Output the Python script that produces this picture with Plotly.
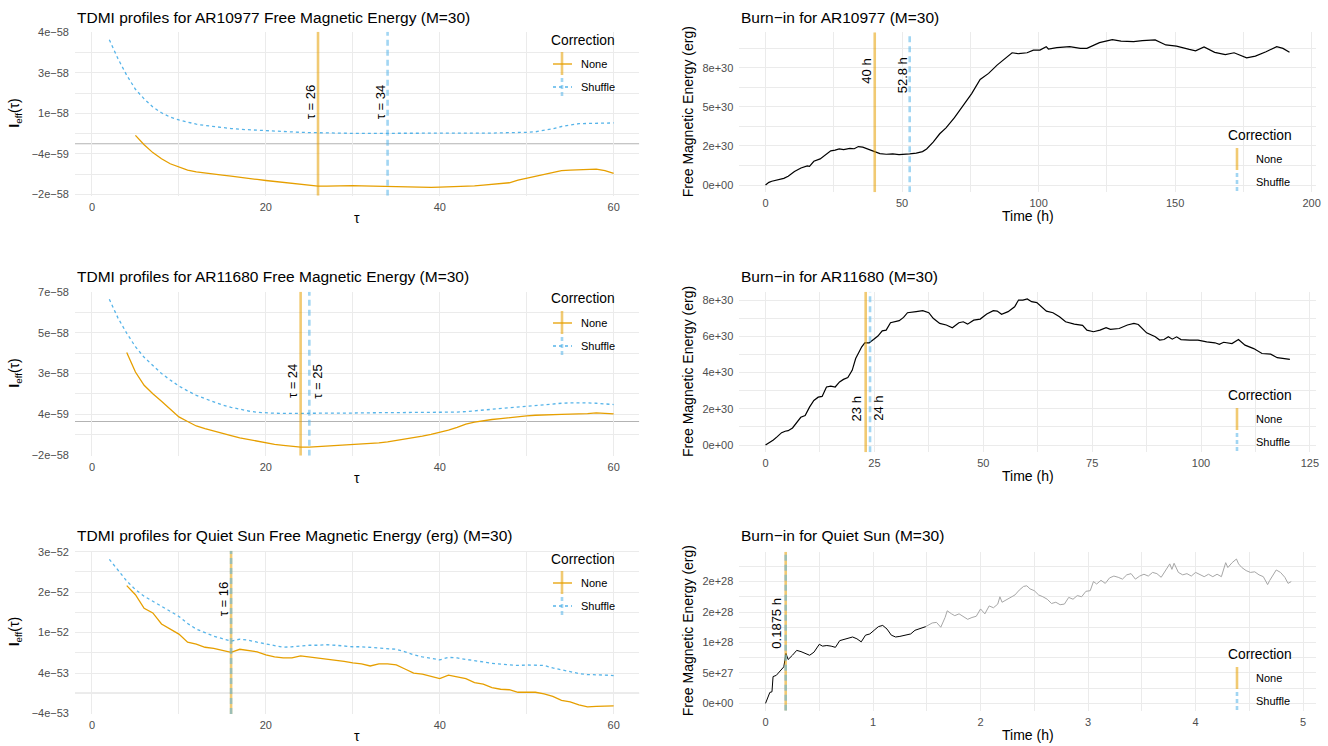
import plotly.graph_objects as go

W, H = 1328, 746
FONT = "Liberation Sans, Arial, Helvetica, sans-serif"
ORANGE = "#E69F00"
BLUE = "#56B4E9"
GRID = "#EBEBEB"
TICKC = "#4D4D4D"

# ---------------- data ----------------
# TDMI profiles (values in units of the scale factor)
tdmi_scale_ar = 1e-58
tdmi_scale_qs = 1e-52

ar10977_tau_shuffle = list(range(2, 61))
ar10977_shuffle = [4.10, 3.35, 2.70, 2.15, 1.77, 1.45, 1.22, 1.05, 0.94, 0.85, 0.77, 0.72, 0.67, 0.63, 0.60,
                   0.57, 0.55, 0.53, 0.51, 0.49, 0.47, 0.46, 0.45, 0.44, 0.43, 0.43, 0.42, 0.42, 0.41, 0.41,
                   0.41, 0.40, 0.40, 0.40, 0.40, 0.41, 0.41, 0.41, 0.41, 0.41, 0.41, 0.42, 0.42, 0.42, 0.42,
                   0.43, 0.43, 0.44, 0.45, 0.47, 0.52, 0.59, 0.68, 0.75, 0.79, 0.80, 0.81, 0.81, 0.82]
ar10977_tau_none = list(range(5, 61))
ar10977_none = [0.33, -0.04, -0.35, -0.59, -0.79, -0.93, -1.04, -1.11, -1.16, -1.20,
                -1.24, -1.28, -1.33, -1.37, -1.41, -1.45, -1.49, -1.53, -1.57, -1.61,
                -1.64, -1.67, -1.67, -1.66, -1.65, -1.65, -1.66, -1.67, -1.68, -1.69,
                -1.69, -1.69, -1.70, -1.71, -1.72, -1.71, -1.70, -1.68, -1.67, -1.66,
                -1.63, -1.60, -1.57, -1.54, -1.44, -1.36, -1.29, -1.20, -1.11, -1.06,
                -1.04, -1.02, -1.01, -1.00, -1.06, -1.17]

ar11680_tau_shuffle = list(range(2, 61))
ar11680_shuffle = [6.62, 5.60, 4.78, 4.05, 3.48, 3.02, 2.60, 2.25, 1.92,
                   1.66, 1.42, 1.24, 1.05, 0.90, 0.77, 0.66, 0.57, 0.50, 0.46,
                   0.45, 0.44, 0.44, 0.43, 0.42, 0.43, 0.44, 0.45, 0.46, 0.46,
                   0.47, 0.47, 0.47, 0.47, 0.47, 0.47, 0.47, 0.47, 0.47, 0.47,
                   0.49, 0.51, 0.54, 0.58, 0.63, 0.69, 0.73, 0.77, 0.80, 0.84,
                   0.89, 0.94, 0.97, 0.99, 1.01, 1.02, 1.01, 0.99, 0.96, 0.92]
ar11680_tau_none = list(range(4, 61))
ar11680_none = [3.74, 2.68, 1.96, 1.50, 1.10, 0.67, 0.25, 0.00, -0.24, -0.38,
                -0.52, -0.65, -0.76, -0.88, -0.98, -1.08, -1.18, -1.24, -1.29, -1.34,
                -1.39, -1.39, -1.36, -1.33, -1.30, -1.28, -1.26, -1.24, -1.21, -1.16,
                -1.10, -1.03, -0.96, -0.88, -0.79, -0.70, -0.59, -0.46, -0.32, -0.14,
                -0.03, 0.05, 0.11, 0.16, 0.22, 0.26, 0.31, 0.34, 0.37, 0.38,
                0.39, 0.40, 0.40, 0.43, 0.47, 0.45, 0.42]

qs_tau_shuffle = list(range(2, 61))
qs_shuffle = [2.65, 2.43, 2.22, 2.05, 1.92, 1.82, 1.72, 1.62, 1.52,
              1.38, 1.27, 1.20, 1.13, 1.08, 1.03, 1.07, 1.05, 1.01, 0.98,
              0.94, 0.91, 0.92, 0.94, 0.95, 0.95, 0.96, 0.95, 0.93, 0.92,
              0.92, 0.91, 0.90, 0.89, 0.87, 0.82, 0.76, 0.72, 0.69, 0.66,
              0.71, 0.70, 0.67, 0.65, 0.62, 0.59, 0.58, 0.57, 0.55, 0.56,
              0.56, 0.55, 0.50, 0.46, 0.43, 0.39, 0.37, 0.37, 0.36, 0.35]
qs_tau_none = list(range(4, 61))
qs_none = [2.13, 1.95, 1.68, 1.59, 1.37, 1.27, 1.17, 1.01, 0.97, 0.91,
           0.89, 0.85, 0.81, 0.87, 0.85, 0.82, 0.76, 0.72, 0.70, 0.70,
           0.74, 0.72, 0.70, 0.68, 0.66, 0.63, 0.60, 0.58, 0.54, 0.58,
           0.58, 0.56, 0.48, 0.40, 0.38, 0.33, 0.29, 0.36, 0.33, 0.29,
           0.21, 0.18, 0.11, 0.08, 0.07, 0.02, 0.02, 0.02, -0.01, -0.06,
           -0.14, -0.17, -0.23, -0.27, -0.26, -0.26, -0.25]

# Burn-in series (free magnetic energy)
fe_scale_ar = 1e30
fe_scale_qs = 1e28

ar10977_time = [0, 1.25, 2.3, 4.4, 6.7, 8.3, 10.6, 13, 15.3, 16.1, 17.7, 20, 22.3, 23.9, 25.5, 27, 28.6, 30.9,
                32.5, 34, 35.6, 38, 40, 41.9, 44.2, 46.6, 48.9, 51.3, 52.8, 55.2, 57.5, 59, 61.4, 63.8, 66.1,
                69.2, 72.3, 75.5, 78.6, 81.7, 84.8, 88, 90.3, 92.7, 95.8, 98.1, 100.5, 102.8, 103.6, 106.7,
                111.4, 115.3, 117.7, 122.3, 127, 130.2, 134.8, 138, 142.7, 146.6, 150.5, 155.2, 157.5, 160.6,
                164.5, 168.4, 171.6, 176.2, 179.4, 183.3, 187.2, 189.5, 191.9]
ar10977_energy = [0, 0.17, 0.24, 0.34, 0.43, 0.56, 0.86, 1.09, 1.22, 1.20, 1.52, 1.67, 1.99, 2.19, 2.23, 2.31,
                  2.27, 2.34, 2.32, 2.46, 2.42, 2.25, 2.10, 2.01, 1.97, 1.99, 1.95, 1.95, 1.99, 2.04, 2.14, 2.31,
                  2.74, 3.28, 3.66, 4.31, 5.04, 5.85, 6.75, 7.14, 7.67, 8.16, 8.46, 8.40, 8.46, 8.63, 8.63, 8.85,
                  8.70, 8.79, 8.85, 8.74, 8.74, 9.11, 9.30, 9.21, 9.17, 9.24, 9.28, 8.96, 8.89, 8.68, 8.59, 8.83,
                  8.49, 8.34, 8.46, 8.14, 8.25, 8.53, 8.85, 8.74, 8.49]

ar11680_time = [0, 1, 1.8, 2.7, 3.7, 4.5, 5.2, 6.2, 7.2, 8.1, 9.1, 10.1, 11.1, 12.1, 13, 14, 15, 16, 17, 17.9,
                18.9, 19.9, 20.7, 21.4, 22.1, 22.8, 23.8, 24.8, 25.8, 26.8, 27.7, 28.7, 30.7, 31.7, 32.6, 34.6,
                36.1, 37.5, 38.5, 40, 41.5, 42.9, 44.4, 45.4, 46.4, 47.8, 49.3, 50.8, 52.3, 53.2, 54.2, 55.7,
                57.2, 58.1, 59.1, 60.1, 61.1, 62.3, 63.5, 64.5, 66, 67.5, 68.9, 70.9, 72.8, 73.8, 75.3, 76.8,
                78.2, 79.2, 81.2, 83.1, 84.6, 85.6, 87.5, 89.5, 90.5, 91.5, 92.5, 93.4, 94.4, 95.4, 97.4, 99.3,
                101.3, 103.2, 104.2, 105.2, 107.1, 108.6, 110.1, 112.1, 114, 116, 117.5, 120.4]
ar11680_energy = [0, 0.15, 0.28, 0.46, 0.68, 0.76, 0.79, 0.94, 1.26, 1.53, 1.63, 2.09, 2.46, 2.64, 2.68, 3.20,
                  3.25, 3.20, 3.48, 3.62, 3.72, 4.12, 4.77, 5.14, 5.42, 5.64, 5.64, 5.82, 6.01, 6.30, 6.34, 6.75,
                  6.86, 7.04, 7.30, 7.36, 7.41, 7.30, 6.99, 6.71, 6.62, 6.47, 6.75, 6.80, 6.67, 6.89, 6.95, 7.23,
                  7.41, 7.39, 7.21, 7.36, 7.63, 8.00, 8.00, 8.06, 7.91, 7.86, 7.60, 7.39, 7.30, 7.08, 6.80, 6.67,
                  6.60, 6.34, 6.25, 6.34, 6.47, 6.38, 6.43, 6.62, 6.71, 6.65, 6.19, 5.97, 5.79, 5.82, 5.97, 5.84,
                  5.97, 5.82, 5.79, 5.79, 5.69, 5.64, 5.56, 5.67, 5.60, 5.82, 5.51, 5.32, 5.05, 5.01, 4.82, 4.73]

qs_time_used = [0, 0.02, 0.04, 0.06, 0.07, 0.10, 0.13, 0.15, 0.17, 0.19, 0.21, 0.25, 0.29, 0.33, 0.37, 0.41,
                0.45, 0.50, 0.53, 0.57, 0.61, 0.65, 0.69, 0.73, 0.77, 0.81, 0.85, 0.89, 0.93, 0.97, 1.01, 1.05,
                1.09, 1.13, 1.17, 1.21, 1.25, 1.31, 1.35, 1.39, 1.43, 1.47, 1.49]
qs_energy_used = [0, 0.11, 0.18, 0.19, 0.44, 0.46, 0.52, 0.56, 0.60, 0.82, 0.72, 0.79, 0.87, 0.85, 0.82, 0.79,
                  0.84, 0.97, 0.94, 0.95, 0.94, 0.92, 1.03, 1.05, 1.06, 1.09, 1.06, 1.01, 1.12, 1.14, 1.20, 1.26,
                  1.28, 1.22, 1.12, 1.09, 1.10, 1.12, 1.14, 1.20, 1.22, 1.24, 1.26]
qs_time_rest = [1.49, 1.55, 1.59, 1.63, 1.67, 1.69, 1.73, 1.76, 1.80, 1.84, 1.88, 1.92, 1.96, 2.00, 2.04, 2.08,
                2.12, 2.16, 2.18, 2.20, 2.24, 2.28, 2.32, 2.36, 2.40, 2.43, 2.46, 2.50, 2.54, 2.58, 2.62, 2.66,
                2.70, 2.74, 2.78, 2.82, 2.86, 2.90, 2.94, 2.98, 3.02, 3.05, 3.08, 3.12, 3.16, 3.20, 3.24, 3.28,
                3.32, 3.36, 3.40, 3.44, 3.48, 3.52, 3.56, 3.60, 3.64, 3.68, 3.72, 3.76, 3.78, 3.80, 3.84, 3.88,
                3.92, 3.96, 4.00, 4.04, 4.08, 4.12, 4.16, 4.20, 4.24, 4.28, 4.30, 4.34, 4.38, 4.40, 4.43, 4.47,
                4.51, 4.55, 4.59, 4.63, 4.67, 4.69, 4.73, 4.75, 4.79, 4.83, 4.86, 4.89]
qs_energy_rest = [1.26, 1.32, 1.33, 1.25, 1.41, 1.52, 1.47, 1.44, 1.47, 1.43, 1.38, 1.41, 1.43, 1.55, 1.47, 1.60,
                  1.57, 1.63, 1.75, 1.66, 1.70, 1.74, 1.78, 1.86, 1.92, 1.93, 1.88, 1.85, 1.78, 1.75, 1.71, 1.64,
                  1.66, 1.62, 1.63, 1.74, 1.71, 1.77, 1.75, 1.84, 1.85, 2.00, 1.96, 2.02, 1.97, 2.06, 2.09, 2.07,
                  2.04, 2.11, 2.13, 2.04, 2.09, 2.12, 2.09, 2.15, 2.13, 2.07, 2.19, 2.29, 2.20, 2.30, 2.15, 2.11,
                  2.13, 2.09, 2.15, 2.11, 2.08, 2.12, 2.08, 2.12, 2.08, 2.31, 2.23, 2.31, 2.37, 2.29, 2.23, 2.18,
                  2.15, 2.16, 2.11, 2.08, 1.95, 2.02, 2.12, 2.19, 2.15, 2.07, 1.97, 2.00]

# chosen lags / burn-in times
tdmi_vlines = {"ar10977": (26, 34), "ar11680": (24, 25), "qs": (16, 16)}
burn_vlines = {"ar10977": (40, 52.8), "ar11680": (23, 24), "qs": (0.1875, 0.1875)}

# tick labels
ar10977_yticks = [4.4, 2.8, 1.2, -0.4, -2.0]
ar10977_ylabels = ["4e\u221258", "3e\u221258", "1e\u221258", "\u22124e\u221259", "\u22122e\u221258"]
ar11680_yticks = [7.0, 4.8, 2.6, 0.4, -1.8]
ar11680_ylabels = ["7e\u221258", "5e\u221258", "3e\u221258", "4e\u221259", "\u22122e\u221258"]
qs_yticks = [2.8, 2.0, 1.2, 0.4, -0.4]
qs_ylabels = ["3e\u221252", "2e\u221252", "1e\u221252", "4e\u221253", "\u22124e\u221253"]
b10977_yticks = [0, 2.5, 5, 7.5]
b10977_ylabels = ["0e+00", "2e+30", "5e+30", "8e+30"]
b11680_yticks = [0, 2, 4, 6, 8]
b11680_ylabels = ["0e+00", "2e+30", "4e+30", "6e+30", "8e+30"]
bqs_yticks = [0, 0.5, 1.0, 1.5, 2.0]
bqs_ylabels = ["0e+00", "5e+27", "1e+28", "2e+28", "2e+28"]

# ---------------- layout helpers ----------------
def px(x):
    return x / W

def py(y):
    return 1 - y / H

def midpoints(vals, lo, hi):
    v = sorted(vals)
    step = v[1] - v[0]
    out = []
    m = v[0] - step / 2
    while m <= hi:
        if m >= lo and all(abs(m - t) > 1e-9 for t in v):
            out.append(m)
        m += step
    return out

fig = go.Figure()
layout = dict(width=W, height=H, margin=dict(l=0, r=0, t=0, b=0, autoexpand=False),
              paper_bgcolor="white", plot_bgcolor="white", showlegend=False,
              font=dict(family=FONT, color="black"))
shapes, annots = [], []

panels = [
    dict(n=1, xd=(75, 639.3), yd=(31.7, 195.7), xr=(-1.95, 62.95), yr=(-2.05, 4.42),
         xt=[0, 20, 40, 60], yt=ar10977_yticks, yl=ar10977_ylabels, s=tdmi_scale_ar),
    dict(n=2, xd=(739.3, 1316), yd=(32.3, 192.3), xr=(-9.6, 201.6), yr=(-0.465, 9.77),
         xt=[0, 50, 100, 150, 200], yt=b10977_yticks, yl=b10977_ylabels, s=fe_scale_ar),
    dict(n=3, xd=(75, 639.3), yd=(291.7, 455.7), xr=(-1.95, 62.95), yr=(-1.85, 7.03),
         xt=[0, 20, 40, 60], yt=ar11680_yticks, yl=ar11680_ylabels, s=tdmi_scale_ar),
    dict(n=4, xd=(739.3, 1316), yd=(291.7, 452.3), xr=(-6.02, 126.4), yr=(-0.403, 8.46),
         xt=[0, 25, 50, 75, 100, 125], yt=b11680_yticks, yl=b11680_ylabels, s=fe_scale_ar),
    dict(n=5, xd=(75, 639.3), yd=(550.7, 714), xr=(-1.95, 62.95), yr=(-0.41, 2.82),
         xt=[0, 20, 40, 60], yt=qs_yticks, yl=qs_ylabels, s=tdmi_scale_qs),
    dict(n=6, xd=(739.3, 1316), yd=(551.7, 710.7), xr=(-0.244, 5.12), yr=(-0.12, 2.49),
         xt=[0, 1, 2, 3, 4, 5], yt=bqs_yticks, yl=bqs_ylabels, s=fe_scale_qs),
]

for p in panels:
    n = p["n"]
    s = p["s"]
    xk = "xaxis" if n == 1 else f"xaxis{n}"
    yk = "yaxis" if n == 1 else f"yaxis{n}"
    xa = "x" if n == 1 else f"x{n}"
    ya = "y" if n == 1 else f"y{n}"
    layout[xk] = dict(domain=[px(p["xd"][0]), px(p["xd"][1])], range=list(p["xr"]), anchor=ya,
                      showgrid=True, gridcolor=GRID, gridwidth=1.1, zeroline=False, showline=False,
                      ticks="", tickvals=p["xt"], ticktext=[str(v) for v in p["xt"]],
                      tickfont=dict(size=11, color=TICKC, family=FONT), ticklabelstandoff=3,
                      minor=dict(tickvals=midpoints(p["xt"], p["xr"][0], p["xr"][1]), showgrid=True,
                                 gridcolor=GRID, gridwidth=0.55, ticks=""),
                      automargin=False, fixedrange=True)
    layout[yk] = dict(domain=[py(p["yd"][1]), py(p["yd"][0])], range=[p["yr"][0] * s, p["yr"][1] * s],
                      anchor=xa, showgrid=True, gridcolor=GRID, gridwidth=1.1, zeroline=False,
                      showline=False, ticks="", tickvals=[v * s for v in p["yt"]], ticktext=p["yl"],
                      tickfont=dict(size=11, color=TICKC, family=FONT), ticklabelstandoff=5,
                      minor=dict(tickvals=[v * s for v in midpoints(p["yt"], p["yr"][0], p["yr"][1])],
                                 showgrid=True, gridcolor=GRID, gridwidth=0.55, ticks=""),
                      automargin=False, fixedrange=True)
    p["xa"], p["ya"] = xa, ya

def add_line(p, x, y, color, width, dash="solid"):
    fig.add_trace(go.Scatter(x=x, y=[v * p["s"] for v in y], mode="lines",
                             line=dict(color=color, width=width, dash=dash),
                             xaxis=p["xa"], yaxis=p["ya"], hoverinfo="skip", showlegend=False))

def add_vlines(p, xn, xs):
    lo, hi = p["yr"][0] * p["s"], p["yr"][1] * p["s"]
    shapes.append(dict(type="line", xref=p["xa"], yref=p["ya"], x0=xn, x1=xn, y0=lo, y1=hi,
                       line=dict(color=ORANGE, width=2.6), opacity=0.55, layer="above"))
    shapes.append(dict(type="line", xref=p["xa"], yref=p["ya"], x0=xs, x1=xs, y0=lo, y1=hi,
                       line=dict(color=BLUE, width=2.6, dash="6px,4px"), opacity=0.55, layer="above"))

def add_hline0(p):
    shapes.append(dict(type="line", xref=p["xa"], yref=p["ya"], x0=p["xr"][0], x1=p["xr"][1], y0=0, y1=0,
                       line=dict(color="#B3B3B3", width=1.1), layer="below"))

def vlabel(p, x, y, text, shift):
    annots.append(dict(x=x, y=y * p["s"], xref=p["xa"], yref=p["ya"], text=text, textangle=-90,
                       showarrow=False, xanchor="center", yanchor="middle", xshift=shift,
                       font=dict(size=13, color="black", family=FONT)))

P1, P2, P3, P4, P5, P6 = panels

# TDMI panels
for p, ts, vs, tn, vn, key in [
    (P1, ar10977_tau_shuffle, ar10977_shuffle, ar10977_tau_none, ar10977_none, "ar10977"),
    (P3, ar11680_tau_shuffle, ar11680_shuffle, ar11680_tau_none, ar11680_none, "ar11680"),
    (P5, qs_tau_shuffle, qs_shuffle, qs_tau_none, qs_none, "qs"),
]:
    add_hline0(p)
    add_line(p, tn, vn, ORANGE, 1.3)
    add_line(p, ts, vs, BLUE, 1.3, "dot")
    add_vlines(p, *tdmi_vlines[key])

vlabel(P1, 26, 1.64, "\u03c4 = 26", -8)
vlabel(P1, 34, 1.62, "\u03c4 = 34", -7)
vlabel(P3, 24, 2.17, "\u03c4 = 24", -8)
vlabel(P3, 25, 2.17, "\u03c4 = 25", 8)
vlabel(P5, 16, 1.86, "\u03c4 = 16", -8)

# burn-in panels
add_line(P2, ar10977_time, ar10977_energy, "black", 1.2)
add_vlines(P2, *burn_vlines["ar10977"])
add_line(P4, ar11680_time, ar11680_energy, "black", 1.2)
add_vlines(P4, *burn_vlines["ar11680"])
add_line(P6, qs_time_rest, qs_energy_rest, "#A6A6A6", 1.0)
add_line(P6, qs_time_used, qs_energy_used, "black", 1.0)
add_vlines(P6, *burn_vlines["qs"])

vlabel(P2, 40, 7.30, "40 h", -8)
vlabel(P2, 52.8, 7.0, "52.8 h", -7)
vlabel(P4, 23, 2.0, "23 h", -9)
vlabel(P4, 24, 2.0, "24 h", 9)
vlabel(P6, 0.1875, 1.32, "0.1875 h", -9)

# titles & axis titles
titles = [
    (75, 17, "TDMI profiles for AR10977 Free Magnetic Energy (M=30)"),
    (739, 17, "Burn\u2212in for AR10977 (M=30)"),
    (75, 276, "TDMI profiles for AR11680 Free Magnetic Energy (M=30)"),
    (739, 276, "Burn\u2212in for AR11680 (M=30)"),
    (75, 535, "TDMI profiles for Quiet Sun Free Magnetic Energy (erg) (M=30)"),
    (739, 535, "Burn\u2212in for Quiet Sun (M=30)"),
]
for x, y, t in titles:
    annots.append(dict(x=px(x), y=py(y), xref="paper", yref="paper", text=t, showarrow=False,
                       xanchor="left", yanchor="middle", font=dict(size=15.5, color="black", family=FONT)))

for p in panels:
    cx = (p["xd"][0] + p["xd"][1]) / 2
    cy = (p["yd"][0] + p["yd"][1]) / 2
    left = p["n"] % 2 == 1
    if left:
        annots.append(dict(x=px(15), y=py(cy), xref="paper", yref="paper",
                           text="<b>I</b><sub>eff</sub>(\u03c4)", textangle=-90, showarrow=False,
                           xanchor="center", yanchor="middle", font=dict(size=14, color="black", family=FONT)))
        annots.append(dict(x=px(cx), y=py(p["yd"][1] + 22), xref="paper", yref="paper", text="\u03c4",
                           showarrow=False, xanchor="center", yanchor="middle",
                           font=dict(size=14, color="black", family=FONT)))
    else:
        annots.append(dict(x=px(688), y=py(cy), xref="paper", yref="paper",
                           text="Free Magnetic Energy (erg)", textangle=-90, showarrow=False,
                           xanchor="center", yanchor="middle", font=dict(size=14, color="black", family=FONT)))
        annots.append(dict(x=px(cx), y=py(p["yd"][1] + 24), xref="paper", yref="paper", text="Time (h)",
                           showarrow=False, xanchor="center", yanchor="middle",
                           font=dict(size=14, color="black", family=FONT)))

# legends (drawn manually)
def seg(x0, y0, x1, y1, color, width, dash="solid", opacity=1.0):
    shapes.append(dict(type="line", xref="paper", yref="paper", x0=px(x0), y0=py(y0), x1=px(x1), y1=py(y1),
                       line=dict(color=color, width=width, dash=dash), opacity=opacity, layer="above"))

def text_at(x, y, t, size):
    annots.append(dict(x=px(x), y=py(y), xref="paper", yref="paper", text=t, showarrow=False,
                       xanchor="left", yanchor="middle", font=dict(size=size, color="black", family=FONT)))

for ty in (40, 299, 559):
    ny, sy = ty + 24, ty + 47
    text_at(549, ty, "Correction", 13.8)
    seg(562, ny - 12, 562, ny + 11, ORANGE, 2.6, opacity=0.55)
    seg(553, ny, 572, ny, ORANGE, 1.3)
    seg(562, sy - 9, 562, sy + 10, BLUE, 2.6, "4px,3px", opacity=0.55)
    seg(553, sy, 572, sy, BLUE, 1.3, "dot")
    text_at(579, ny, "None", 11)
    text_at(579, sy, "Shuffle", 11)

for ty in (135, 395, 654):
    ny, sy = ty + 24, ty + 47
    text_at(1226, ty, "Correction", 13.8)
    seg(1237, ny - 11, 1237, ny + 11, ORANGE, 2.6, opacity=0.55)
    seg(1237, sy - 9, 1237, sy + 10, BLUE, 2.6, "4px,3px", opacity=0.55)
    text_at(1254, ny, "None", 11)
    text_at(1254, sy, "Shuffle", 11)

layout["shapes"] = shapes
layout["annotations"] = annots
fig.update_layout(**layout)
fig.write_html("out.html", config={"displayModeBar": False, "responsive": False},
               post_script="document.body.style.margin='0';document.body.style.overflow='hidden';")
